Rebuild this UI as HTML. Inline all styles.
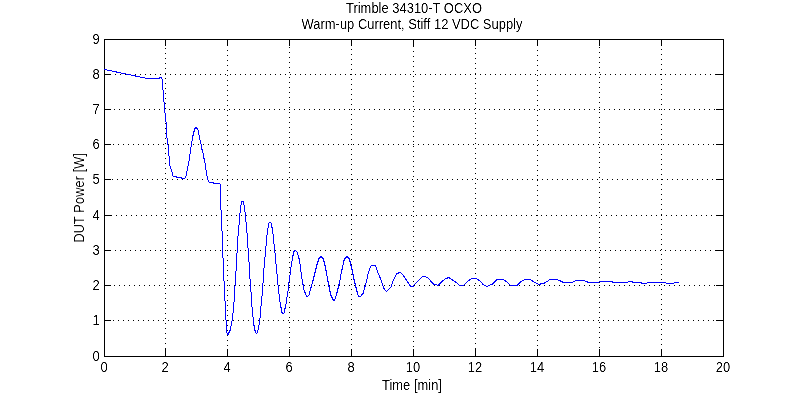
<!DOCTYPE html>
<html><head><meta charset="utf-8"><style>
html,body{margin:0;padding:0;background:#fff;width:799px;height:400px;overflow:hidden}
body{position:relative;font-family:"Liberation Sans",sans-serif;font-size:14px;color:#000}
.t{position:absolute;line-height:16px;white-space:nowrap;transform:scaleX(0.925);filter:url(#bk)}
.c{text-align:center;transform-origin:50% 50%}
.r{text-align:right;transform-origin:100% 50%}
svg{position:absolute;left:0;top:0}
</style></head><body>
<svg width="0" height="0" style="position:absolute"><filter id="bk" x="0" y="0" width="100%" height="100%"><feComponentTransfer><feFuncA type="linear" slope="1.8" intercept="-0.45"/></feComponentTransfer></filter></svg>
<svg width="799" height="400" viewBox="0 0 799 400" shape-rendering="crispEdges">
<g fill="#000"><rect x="108" y="320" width="1" height="1"/><rect x="113" y="320" width="1" height="1"/><rect x="118" y="320" width="1" height="1"/><rect x="123" y="320" width="1" height="1"/><rect x="128" y="320" width="1" height="1"/><rect x="133" y="320" width="1" height="1"/><rect x="138" y="320" width="1" height="1"/><rect x="143" y="320" width="1" height="1"/><rect x="148" y="320" width="1" height="1"/><rect x="153" y="320" width="1" height="1"/><rect x="158" y="320" width="1" height="1"/><rect x="163" y="320" width="1" height="1"/><rect x="168" y="320" width="1" height="1"/><rect x="173" y="320" width="1" height="1"/><rect x="178" y="320" width="1" height="1"/><rect x="183" y="320" width="1" height="1"/><rect x="188" y="320" width="1" height="1"/><rect x="193" y="320" width="1" height="1"/><rect x="198" y="320" width="1" height="1"/><rect x="203" y="320" width="1" height="1"/><rect x="208" y="320" width="1" height="1"/><rect x="213" y="320" width="1" height="1"/><rect x="218" y="320" width="1" height="1"/><rect x="223" y="320" width="1" height="1"/><rect x="228" y="320" width="1" height="1"/><rect x="233" y="320" width="1" height="1"/><rect x="238" y="320" width="1" height="1"/><rect x="243" y="320" width="1" height="1"/><rect x="248" y="320" width="1" height="1"/><rect x="253" y="320" width="1" height="1"/><rect x="258" y="320" width="1" height="1"/><rect x="263" y="320" width="1" height="1"/><rect x="268" y="320" width="1" height="1"/><rect x="273" y="320" width="1" height="1"/><rect x="278" y="320" width="1" height="1"/><rect x="283" y="320" width="1" height="1"/><rect x="288" y="320" width="1" height="1"/><rect x="293" y="320" width="1" height="1"/><rect x="298" y="320" width="1" height="1"/><rect x="303" y="320" width="1" height="1"/><rect x="308" y="320" width="1" height="1"/><rect x="313" y="320" width="1" height="1"/><rect x="318" y="320" width="1" height="1"/><rect x="323" y="320" width="1" height="1"/><rect x="328" y="320" width="1" height="1"/><rect x="333" y="320" width="1" height="1"/><rect x="338" y="320" width="1" height="1"/><rect x="343" y="320" width="1" height="1"/><rect x="348" y="320" width="1" height="1"/><rect x="353" y="320" width="1" height="1"/><rect x="358" y="320" width="1" height="1"/><rect x="363" y="320" width="1" height="1"/><rect x="368" y="320" width="1" height="1"/><rect x="373" y="320" width="1" height="1"/><rect x="378" y="320" width="1" height="1"/><rect x="383" y="320" width="1" height="1"/><rect x="388" y="320" width="1" height="1"/><rect x="393" y="320" width="1" height="1"/><rect x="398" y="320" width="1" height="1"/><rect x="403" y="320" width="1" height="1"/><rect x="408" y="320" width="1" height="1"/><rect x="413" y="320" width="1" height="1"/><rect x="418" y="320" width="1" height="1"/><rect x="423" y="320" width="1" height="1"/><rect x="428" y="320" width="1" height="1"/><rect x="433" y="320" width="1" height="1"/><rect x="438" y="320" width="1" height="1"/><rect x="443" y="320" width="1" height="1"/><rect x="448" y="320" width="1" height="1"/><rect x="453" y="320" width="1" height="1"/><rect x="458" y="320" width="1" height="1"/><rect x="463" y="320" width="1" height="1"/><rect x="468" y="320" width="1" height="1"/><rect x="473" y="320" width="1" height="1"/><rect x="478" y="320" width="1" height="1"/><rect x="483" y="320" width="1" height="1"/><rect x="488" y="320" width="1" height="1"/><rect x="493" y="320" width="1" height="1"/><rect x="498" y="320" width="1" height="1"/><rect x="503" y="320" width="1" height="1"/><rect x="508" y="320" width="1" height="1"/><rect x="513" y="320" width="1" height="1"/><rect x="518" y="320" width="1" height="1"/><rect x="523" y="320" width="1" height="1"/><rect x="528" y="320" width="1" height="1"/><rect x="533" y="320" width="1" height="1"/><rect x="538" y="320" width="1" height="1"/><rect x="543" y="320" width="1" height="1"/><rect x="548" y="320" width="1" height="1"/><rect x="553" y="320" width="1" height="1"/><rect x="558" y="320" width="1" height="1"/><rect x="563" y="320" width="1" height="1"/><rect x="568" y="320" width="1" height="1"/><rect x="573" y="320" width="1" height="1"/><rect x="578" y="320" width="1" height="1"/><rect x="583" y="320" width="1" height="1"/><rect x="588" y="320" width="1" height="1"/><rect x="593" y="320" width="1" height="1"/><rect x="598" y="320" width="1" height="1"/><rect x="603" y="320" width="1" height="1"/><rect x="608" y="320" width="1" height="1"/><rect x="613" y="320" width="1" height="1"/><rect x="618" y="320" width="1" height="1"/><rect x="623" y="320" width="1" height="1"/><rect x="628" y="320" width="1" height="1"/><rect x="633" y="320" width="1" height="1"/><rect x="638" y="320" width="1" height="1"/><rect x="643" y="320" width="1" height="1"/><rect x="648" y="320" width="1" height="1"/><rect x="653" y="320" width="1" height="1"/><rect x="658" y="320" width="1" height="1"/><rect x="663" y="320" width="1" height="1"/><rect x="668" y="320" width="1" height="1"/><rect x="673" y="320" width="1" height="1"/><rect x="678" y="320" width="1" height="1"/><rect x="683" y="320" width="1" height="1"/><rect x="688" y="320" width="1" height="1"/><rect x="693" y="320" width="1" height="1"/><rect x="698" y="320" width="1" height="1"/><rect x="703" y="320" width="1" height="1"/><rect x="708" y="320" width="1" height="1"/><rect x="713" y="320" width="1" height="1"/><rect x="718" y="320" width="1" height="1"/><rect x="109" y="285" width="1" height="1"/><rect x="114" y="285" width="1" height="1"/><rect x="119" y="285" width="1" height="1"/><rect x="124" y="285" width="1" height="1"/><rect x="129" y="285" width="1" height="1"/><rect x="134" y="285" width="1" height="1"/><rect x="139" y="285" width="1" height="1"/><rect x="144" y="285" width="1" height="1"/><rect x="149" y="285" width="1" height="1"/><rect x="154" y="285" width="1" height="1"/><rect x="159" y="285" width="1" height="1"/><rect x="164" y="285" width="1" height="1"/><rect x="169" y="285" width="1" height="1"/><rect x="174" y="285" width="1" height="1"/><rect x="179" y="285" width="1" height="1"/><rect x="184" y="285" width="1" height="1"/><rect x="189" y="285" width="1" height="1"/><rect x="194" y="285" width="1" height="1"/><rect x="199" y="285" width="1" height="1"/><rect x="204" y="285" width="1" height="1"/><rect x="209" y="285" width="1" height="1"/><rect x="214" y="285" width="1" height="1"/><rect x="219" y="285" width="1" height="1"/><rect x="224" y="285" width="1" height="1"/><rect x="229" y="285" width="1" height="1"/><rect x="234" y="285" width="1" height="1"/><rect x="239" y="285" width="1" height="1"/><rect x="244" y="285" width="1" height="1"/><rect x="249" y="285" width="1" height="1"/><rect x="254" y="285" width="1" height="1"/><rect x="259" y="285" width="1" height="1"/><rect x="264" y="285" width="1" height="1"/><rect x="269" y="285" width="1" height="1"/><rect x="274" y="285" width="1" height="1"/><rect x="279" y="285" width="1" height="1"/><rect x="284" y="285" width="1" height="1"/><rect x="289" y="285" width="1" height="1"/><rect x="294" y="285" width="1" height="1"/><rect x="299" y="285" width="1" height="1"/><rect x="304" y="285" width="1" height="1"/><rect x="309" y="285" width="1" height="1"/><rect x="314" y="285" width="1" height="1"/><rect x="319" y="285" width="1" height="1"/><rect x="324" y="285" width="1" height="1"/><rect x="329" y="285" width="1" height="1"/><rect x="334" y="285" width="1" height="1"/><rect x="339" y="285" width="1" height="1"/><rect x="344" y="285" width="1" height="1"/><rect x="349" y="285" width="1" height="1"/><rect x="354" y="285" width="1" height="1"/><rect x="359" y="285" width="1" height="1"/><rect x="364" y="285" width="1" height="1"/><rect x="369" y="285" width="1" height="1"/><rect x="374" y="285" width="1" height="1"/><rect x="379" y="285" width="1" height="1"/><rect x="384" y="285" width="1" height="1"/><rect x="389" y="285" width="1" height="1"/><rect x="394" y="285" width="1" height="1"/><rect x="399" y="285" width="1" height="1"/><rect x="404" y="285" width="1" height="1"/><rect x="409" y="285" width="1" height="1"/><rect x="414" y="285" width="1" height="1"/><rect x="419" y="285" width="1" height="1"/><rect x="424" y="285" width="1" height="1"/><rect x="429" y="285" width="1" height="1"/><rect x="434" y="285" width="1" height="1"/><rect x="439" y="285" width="1" height="1"/><rect x="444" y="285" width="1" height="1"/><rect x="449" y="285" width="1" height="1"/><rect x="454" y="285" width="1" height="1"/><rect x="459" y="285" width="1" height="1"/><rect x="464" y="285" width="1" height="1"/><rect x="469" y="285" width="1" height="1"/><rect x="474" y="285" width="1" height="1"/><rect x="479" y="285" width="1" height="1"/><rect x="484" y="285" width="1" height="1"/><rect x="489" y="285" width="1" height="1"/><rect x="494" y="285" width="1" height="1"/><rect x="499" y="285" width="1" height="1"/><rect x="504" y="285" width="1" height="1"/><rect x="509" y="285" width="1" height="1"/><rect x="514" y="285" width="1" height="1"/><rect x="519" y="285" width="1" height="1"/><rect x="524" y="285" width="1" height="1"/><rect x="529" y="285" width="1" height="1"/><rect x="534" y="285" width="1" height="1"/><rect x="539" y="285" width="1" height="1"/><rect x="544" y="285" width="1" height="1"/><rect x="549" y="285" width="1" height="1"/><rect x="554" y="285" width="1" height="1"/><rect x="559" y="285" width="1" height="1"/><rect x="564" y="285" width="1" height="1"/><rect x="569" y="285" width="1" height="1"/><rect x="574" y="285" width="1" height="1"/><rect x="579" y="285" width="1" height="1"/><rect x="584" y="285" width="1" height="1"/><rect x="589" y="285" width="1" height="1"/><rect x="594" y="285" width="1" height="1"/><rect x="599" y="285" width="1" height="1"/><rect x="604" y="285" width="1" height="1"/><rect x="609" y="285" width="1" height="1"/><rect x="614" y="285" width="1" height="1"/><rect x="619" y="285" width="1" height="1"/><rect x="624" y="285" width="1" height="1"/><rect x="629" y="285" width="1" height="1"/><rect x="634" y="285" width="1" height="1"/><rect x="639" y="285" width="1" height="1"/><rect x="644" y="285" width="1" height="1"/><rect x="649" y="285" width="1" height="1"/><rect x="654" y="285" width="1" height="1"/><rect x="659" y="285" width="1" height="1"/><rect x="664" y="285" width="1" height="1"/><rect x="669" y="285" width="1" height="1"/><rect x="674" y="285" width="1" height="1"/><rect x="679" y="285" width="1" height="1"/><rect x="684" y="285" width="1" height="1"/><rect x="689" y="285" width="1" height="1"/><rect x="694" y="285" width="1" height="1"/><rect x="699" y="285" width="1" height="1"/><rect x="704" y="285" width="1" height="1"/><rect x="709" y="285" width="1" height="1"/><rect x="714" y="285" width="1" height="1"/><rect x="719" y="285" width="1" height="1"/><rect x="105" y="250" width="1" height="1"/><rect x="110" y="250" width="1" height="1"/><rect x="115" y="250" width="1" height="1"/><rect x="120" y="250" width="1" height="1"/><rect x="125" y="250" width="1" height="1"/><rect x="130" y="250" width="1" height="1"/><rect x="135" y="250" width="1" height="1"/><rect x="140" y="250" width="1" height="1"/><rect x="145" y="250" width="1" height="1"/><rect x="150" y="250" width="1" height="1"/><rect x="155" y="250" width="1" height="1"/><rect x="160" y="250" width="1" height="1"/><rect x="165" y="250" width="1" height="1"/><rect x="170" y="250" width="1" height="1"/><rect x="175" y="250" width="1" height="1"/><rect x="180" y="250" width="1" height="1"/><rect x="185" y="250" width="1" height="1"/><rect x="190" y="250" width="1" height="1"/><rect x="195" y="250" width="1" height="1"/><rect x="200" y="250" width="1" height="1"/><rect x="205" y="250" width="1" height="1"/><rect x="210" y="250" width="1" height="1"/><rect x="215" y="250" width="1" height="1"/><rect x="220" y="250" width="1" height="1"/><rect x="225" y="250" width="1" height="1"/><rect x="230" y="250" width="1" height="1"/><rect x="235" y="250" width="1" height="1"/><rect x="240" y="250" width="1" height="1"/><rect x="245" y="250" width="1" height="1"/><rect x="250" y="250" width="1" height="1"/><rect x="255" y="250" width="1" height="1"/><rect x="260" y="250" width="1" height="1"/><rect x="265" y="250" width="1" height="1"/><rect x="270" y="250" width="1" height="1"/><rect x="275" y="250" width="1" height="1"/><rect x="280" y="250" width="1" height="1"/><rect x="285" y="250" width="1" height="1"/><rect x="290" y="250" width="1" height="1"/><rect x="295" y="250" width="1" height="1"/><rect x="300" y="250" width="1" height="1"/><rect x="305" y="250" width="1" height="1"/><rect x="310" y="250" width="1" height="1"/><rect x="315" y="250" width="1" height="1"/><rect x="320" y="250" width="1" height="1"/><rect x="325" y="250" width="1" height="1"/><rect x="330" y="250" width="1" height="1"/><rect x="335" y="250" width="1" height="1"/><rect x="340" y="250" width="1" height="1"/><rect x="345" y="250" width="1" height="1"/><rect x="350" y="250" width="1" height="1"/><rect x="355" y="250" width="1" height="1"/><rect x="360" y="250" width="1" height="1"/><rect x="365" y="250" width="1" height="1"/><rect x="370" y="250" width="1" height="1"/><rect x="375" y="250" width="1" height="1"/><rect x="380" y="250" width="1" height="1"/><rect x="385" y="250" width="1" height="1"/><rect x="390" y="250" width="1" height="1"/><rect x="395" y="250" width="1" height="1"/><rect x="400" y="250" width="1" height="1"/><rect x="405" y="250" width="1" height="1"/><rect x="410" y="250" width="1" height="1"/><rect x="415" y="250" width="1" height="1"/><rect x="420" y="250" width="1" height="1"/><rect x="425" y="250" width="1" height="1"/><rect x="430" y="250" width="1" height="1"/><rect x="435" y="250" width="1" height="1"/><rect x="440" y="250" width="1" height="1"/><rect x="445" y="250" width="1" height="1"/><rect x="450" y="250" width="1" height="1"/><rect x="455" y="250" width="1" height="1"/><rect x="460" y="250" width="1" height="1"/><rect x="465" y="250" width="1" height="1"/><rect x="470" y="250" width="1" height="1"/><rect x="475" y="250" width="1" height="1"/><rect x="480" y="250" width="1" height="1"/><rect x="485" y="250" width="1" height="1"/><rect x="490" y="250" width="1" height="1"/><rect x="495" y="250" width="1" height="1"/><rect x="500" y="250" width="1" height="1"/><rect x="505" y="250" width="1" height="1"/><rect x="510" y="250" width="1" height="1"/><rect x="515" y="250" width="1" height="1"/><rect x="520" y="250" width="1" height="1"/><rect x="525" y="250" width="1" height="1"/><rect x="530" y="250" width="1" height="1"/><rect x="535" y="250" width="1" height="1"/><rect x="540" y="250" width="1" height="1"/><rect x="545" y="250" width="1" height="1"/><rect x="550" y="250" width="1" height="1"/><rect x="555" y="250" width="1" height="1"/><rect x="560" y="250" width="1" height="1"/><rect x="565" y="250" width="1" height="1"/><rect x="570" y="250" width="1" height="1"/><rect x="575" y="250" width="1" height="1"/><rect x="580" y="250" width="1" height="1"/><rect x="585" y="250" width="1" height="1"/><rect x="590" y="250" width="1" height="1"/><rect x="595" y="250" width="1" height="1"/><rect x="600" y="250" width="1" height="1"/><rect x="605" y="250" width="1" height="1"/><rect x="610" y="250" width="1" height="1"/><rect x="615" y="250" width="1" height="1"/><rect x="620" y="250" width="1" height="1"/><rect x="625" y="250" width="1" height="1"/><rect x="630" y="250" width="1" height="1"/><rect x="635" y="250" width="1" height="1"/><rect x="640" y="250" width="1" height="1"/><rect x="645" y="250" width="1" height="1"/><rect x="650" y="250" width="1" height="1"/><rect x="655" y="250" width="1" height="1"/><rect x="660" y="250" width="1" height="1"/><rect x="665" y="250" width="1" height="1"/><rect x="670" y="250" width="1" height="1"/><rect x="675" y="250" width="1" height="1"/><rect x="680" y="250" width="1" height="1"/><rect x="685" y="250" width="1" height="1"/><rect x="690" y="250" width="1" height="1"/><rect x="695" y="250" width="1" height="1"/><rect x="700" y="250" width="1" height="1"/><rect x="705" y="250" width="1" height="1"/><rect x="710" y="250" width="1" height="1"/><rect x="715" y="250" width="1" height="1"/><rect x="720" y="250" width="1" height="1"/><rect x="106" y="215" width="1" height="1"/><rect x="111" y="215" width="1" height="1"/><rect x="116" y="215" width="1" height="1"/><rect x="121" y="215" width="1" height="1"/><rect x="126" y="215" width="1" height="1"/><rect x="131" y="215" width="1" height="1"/><rect x="136" y="215" width="1" height="1"/><rect x="141" y="215" width="1" height="1"/><rect x="146" y="215" width="1" height="1"/><rect x="151" y="215" width="1" height="1"/><rect x="156" y="215" width="1" height="1"/><rect x="161" y="215" width="1" height="1"/><rect x="166" y="215" width="1" height="1"/><rect x="171" y="215" width="1" height="1"/><rect x="176" y="215" width="1" height="1"/><rect x="181" y="215" width="1" height="1"/><rect x="186" y="215" width="1" height="1"/><rect x="191" y="215" width="1" height="1"/><rect x="196" y="215" width="1" height="1"/><rect x="201" y="215" width="1" height="1"/><rect x="206" y="215" width="1" height="1"/><rect x="211" y="215" width="1" height="1"/><rect x="216" y="215" width="1" height="1"/><rect x="221" y="215" width="1" height="1"/><rect x="226" y="215" width="1" height="1"/><rect x="231" y="215" width="1" height="1"/><rect x="236" y="215" width="1" height="1"/><rect x="241" y="215" width="1" height="1"/><rect x="246" y="215" width="1" height="1"/><rect x="251" y="215" width="1" height="1"/><rect x="256" y="215" width="1" height="1"/><rect x="261" y="215" width="1" height="1"/><rect x="266" y="215" width="1" height="1"/><rect x="271" y="215" width="1" height="1"/><rect x="276" y="215" width="1" height="1"/><rect x="281" y="215" width="1" height="1"/><rect x="286" y="215" width="1" height="1"/><rect x="291" y="215" width="1" height="1"/><rect x="296" y="215" width="1" height="1"/><rect x="301" y="215" width="1" height="1"/><rect x="306" y="215" width="1" height="1"/><rect x="311" y="215" width="1" height="1"/><rect x="316" y="215" width="1" height="1"/><rect x="321" y="215" width="1" height="1"/><rect x="326" y="215" width="1" height="1"/><rect x="331" y="215" width="1" height="1"/><rect x="336" y="215" width="1" height="1"/><rect x="341" y="215" width="1" height="1"/><rect x="346" y="215" width="1" height="1"/><rect x="351" y="215" width="1" height="1"/><rect x="356" y="215" width="1" height="1"/><rect x="361" y="215" width="1" height="1"/><rect x="366" y="215" width="1" height="1"/><rect x="371" y="215" width="1" height="1"/><rect x="376" y="215" width="1" height="1"/><rect x="381" y="215" width="1" height="1"/><rect x="386" y="215" width="1" height="1"/><rect x="391" y="215" width="1" height="1"/><rect x="396" y="215" width="1" height="1"/><rect x="401" y="215" width="1" height="1"/><rect x="406" y="215" width="1" height="1"/><rect x="411" y="215" width="1" height="1"/><rect x="416" y="215" width="1" height="1"/><rect x="421" y="215" width="1" height="1"/><rect x="426" y="215" width="1" height="1"/><rect x="431" y="215" width="1" height="1"/><rect x="436" y="215" width="1" height="1"/><rect x="441" y="215" width="1" height="1"/><rect x="446" y="215" width="1" height="1"/><rect x="451" y="215" width="1" height="1"/><rect x="456" y="215" width="1" height="1"/><rect x="461" y="215" width="1" height="1"/><rect x="466" y="215" width="1" height="1"/><rect x="471" y="215" width="1" height="1"/><rect x="476" y="215" width="1" height="1"/><rect x="481" y="215" width="1" height="1"/><rect x="486" y="215" width="1" height="1"/><rect x="491" y="215" width="1" height="1"/><rect x="496" y="215" width="1" height="1"/><rect x="501" y="215" width="1" height="1"/><rect x="506" y="215" width="1" height="1"/><rect x="511" y="215" width="1" height="1"/><rect x="516" y="215" width="1" height="1"/><rect x="521" y="215" width="1" height="1"/><rect x="526" y="215" width="1" height="1"/><rect x="531" y="215" width="1" height="1"/><rect x="536" y="215" width="1" height="1"/><rect x="541" y="215" width="1" height="1"/><rect x="546" y="215" width="1" height="1"/><rect x="551" y="215" width="1" height="1"/><rect x="556" y="215" width="1" height="1"/><rect x="561" y="215" width="1" height="1"/><rect x="566" y="215" width="1" height="1"/><rect x="571" y="215" width="1" height="1"/><rect x="576" y="215" width="1" height="1"/><rect x="581" y="215" width="1" height="1"/><rect x="586" y="215" width="1" height="1"/><rect x="591" y="215" width="1" height="1"/><rect x="596" y="215" width="1" height="1"/><rect x="601" y="215" width="1" height="1"/><rect x="606" y="215" width="1" height="1"/><rect x="611" y="215" width="1" height="1"/><rect x="616" y="215" width="1" height="1"/><rect x="621" y="215" width="1" height="1"/><rect x="626" y="215" width="1" height="1"/><rect x="631" y="215" width="1" height="1"/><rect x="636" y="215" width="1" height="1"/><rect x="641" y="215" width="1" height="1"/><rect x="646" y="215" width="1" height="1"/><rect x="651" y="215" width="1" height="1"/><rect x="656" y="215" width="1" height="1"/><rect x="661" y="215" width="1" height="1"/><rect x="666" y="215" width="1" height="1"/><rect x="671" y="215" width="1" height="1"/><rect x="676" y="215" width="1" height="1"/><rect x="681" y="215" width="1" height="1"/><rect x="686" y="215" width="1" height="1"/><rect x="691" y="215" width="1" height="1"/><rect x="696" y="215" width="1" height="1"/><rect x="701" y="215" width="1" height="1"/><rect x="706" y="215" width="1" height="1"/><rect x="711" y="215" width="1" height="1"/><rect x="716" y="215" width="1" height="1"/><rect x="721" y="215" width="1" height="1"/><rect x="107" y="179" width="1" height="1"/><rect x="112" y="179" width="1" height="1"/><rect x="117" y="179" width="1" height="1"/><rect x="122" y="179" width="1" height="1"/><rect x="127" y="179" width="1" height="1"/><rect x="132" y="179" width="1" height="1"/><rect x="137" y="179" width="1" height="1"/><rect x="142" y="179" width="1" height="1"/><rect x="147" y="179" width="1" height="1"/><rect x="152" y="179" width="1" height="1"/><rect x="157" y="179" width="1" height="1"/><rect x="162" y="179" width="1" height="1"/><rect x="167" y="179" width="1" height="1"/><rect x="172" y="179" width="1" height="1"/><rect x="177" y="179" width="1" height="1"/><rect x="182" y="179" width="1" height="1"/><rect x="187" y="179" width="1" height="1"/><rect x="192" y="179" width="1" height="1"/><rect x="197" y="179" width="1" height="1"/><rect x="202" y="179" width="1" height="1"/><rect x="207" y="179" width="1" height="1"/><rect x="212" y="179" width="1" height="1"/><rect x="217" y="179" width="1" height="1"/><rect x="222" y="179" width="1" height="1"/><rect x="227" y="179" width="1" height="1"/><rect x="232" y="179" width="1" height="1"/><rect x="237" y="179" width="1" height="1"/><rect x="242" y="179" width="1" height="1"/><rect x="247" y="179" width="1" height="1"/><rect x="252" y="179" width="1" height="1"/><rect x="257" y="179" width="1" height="1"/><rect x="262" y="179" width="1" height="1"/><rect x="267" y="179" width="1" height="1"/><rect x="272" y="179" width="1" height="1"/><rect x="277" y="179" width="1" height="1"/><rect x="282" y="179" width="1" height="1"/><rect x="287" y="179" width="1" height="1"/><rect x="292" y="179" width="1" height="1"/><rect x="297" y="179" width="1" height="1"/><rect x="302" y="179" width="1" height="1"/><rect x="307" y="179" width="1" height="1"/><rect x="312" y="179" width="1" height="1"/><rect x="317" y="179" width="1" height="1"/><rect x="322" y="179" width="1" height="1"/><rect x="327" y="179" width="1" height="1"/><rect x="332" y="179" width="1" height="1"/><rect x="337" y="179" width="1" height="1"/><rect x="342" y="179" width="1" height="1"/><rect x="347" y="179" width="1" height="1"/><rect x="352" y="179" width="1" height="1"/><rect x="357" y="179" width="1" height="1"/><rect x="362" y="179" width="1" height="1"/><rect x="367" y="179" width="1" height="1"/><rect x="372" y="179" width="1" height="1"/><rect x="377" y="179" width="1" height="1"/><rect x="382" y="179" width="1" height="1"/><rect x="387" y="179" width="1" height="1"/><rect x="392" y="179" width="1" height="1"/><rect x="397" y="179" width="1" height="1"/><rect x="402" y="179" width="1" height="1"/><rect x="407" y="179" width="1" height="1"/><rect x="412" y="179" width="1" height="1"/><rect x="417" y="179" width="1" height="1"/><rect x="422" y="179" width="1" height="1"/><rect x="427" y="179" width="1" height="1"/><rect x="432" y="179" width="1" height="1"/><rect x="437" y="179" width="1" height="1"/><rect x="442" y="179" width="1" height="1"/><rect x="447" y="179" width="1" height="1"/><rect x="452" y="179" width="1" height="1"/><rect x="457" y="179" width="1" height="1"/><rect x="462" y="179" width="1" height="1"/><rect x="467" y="179" width="1" height="1"/><rect x="472" y="179" width="1" height="1"/><rect x="477" y="179" width="1" height="1"/><rect x="482" y="179" width="1" height="1"/><rect x="487" y="179" width="1" height="1"/><rect x="492" y="179" width="1" height="1"/><rect x="497" y="179" width="1" height="1"/><rect x="502" y="179" width="1" height="1"/><rect x="507" y="179" width="1" height="1"/><rect x="512" y="179" width="1" height="1"/><rect x="517" y="179" width="1" height="1"/><rect x="522" y="179" width="1" height="1"/><rect x="527" y="179" width="1" height="1"/><rect x="532" y="179" width="1" height="1"/><rect x="537" y="179" width="1" height="1"/><rect x="542" y="179" width="1" height="1"/><rect x="547" y="179" width="1" height="1"/><rect x="552" y="179" width="1" height="1"/><rect x="557" y="179" width="1" height="1"/><rect x="562" y="179" width="1" height="1"/><rect x="567" y="179" width="1" height="1"/><rect x="572" y="179" width="1" height="1"/><rect x="577" y="179" width="1" height="1"/><rect x="582" y="179" width="1" height="1"/><rect x="587" y="179" width="1" height="1"/><rect x="592" y="179" width="1" height="1"/><rect x="597" y="179" width="1" height="1"/><rect x="602" y="179" width="1" height="1"/><rect x="607" y="179" width="1" height="1"/><rect x="612" y="179" width="1" height="1"/><rect x="617" y="179" width="1" height="1"/><rect x="622" y="179" width="1" height="1"/><rect x="627" y="179" width="1" height="1"/><rect x="632" y="179" width="1" height="1"/><rect x="637" y="179" width="1" height="1"/><rect x="642" y="179" width="1" height="1"/><rect x="647" y="179" width="1" height="1"/><rect x="652" y="179" width="1" height="1"/><rect x="657" y="179" width="1" height="1"/><rect x="662" y="179" width="1" height="1"/><rect x="667" y="179" width="1" height="1"/><rect x="672" y="179" width="1" height="1"/><rect x="677" y="179" width="1" height="1"/><rect x="682" y="179" width="1" height="1"/><rect x="687" y="179" width="1" height="1"/><rect x="692" y="179" width="1" height="1"/><rect x="697" y="179" width="1" height="1"/><rect x="702" y="179" width="1" height="1"/><rect x="707" y="179" width="1" height="1"/><rect x="712" y="179" width="1" height="1"/><rect x="717" y="179" width="1" height="1"/><rect x="722" y="179" width="1" height="1"/><rect x="108" y="144" width="1" height="1"/><rect x="113" y="144" width="1" height="1"/><rect x="118" y="144" width="1" height="1"/><rect x="123" y="144" width="1" height="1"/><rect x="128" y="144" width="1" height="1"/><rect x="133" y="144" width="1" height="1"/><rect x="138" y="144" width="1" height="1"/><rect x="143" y="144" width="1" height="1"/><rect x="148" y="144" width="1" height="1"/><rect x="153" y="144" width="1" height="1"/><rect x="158" y="144" width="1" height="1"/><rect x="163" y="144" width="1" height="1"/><rect x="168" y="144" width="1" height="1"/><rect x="173" y="144" width="1" height="1"/><rect x="178" y="144" width="1" height="1"/><rect x="183" y="144" width="1" height="1"/><rect x="188" y="144" width="1" height="1"/><rect x="193" y="144" width="1" height="1"/><rect x="198" y="144" width="1" height="1"/><rect x="203" y="144" width="1" height="1"/><rect x="208" y="144" width="1" height="1"/><rect x="213" y="144" width="1" height="1"/><rect x="218" y="144" width="1" height="1"/><rect x="223" y="144" width="1" height="1"/><rect x="228" y="144" width="1" height="1"/><rect x="233" y="144" width="1" height="1"/><rect x="238" y="144" width="1" height="1"/><rect x="243" y="144" width="1" height="1"/><rect x="248" y="144" width="1" height="1"/><rect x="253" y="144" width="1" height="1"/><rect x="258" y="144" width="1" height="1"/><rect x="263" y="144" width="1" height="1"/><rect x="268" y="144" width="1" height="1"/><rect x="273" y="144" width="1" height="1"/><rect x="278" y="144" width="1" height="1"/><rect x="283" y="144" width="1" height="1"/><rect x="288" y="144" width="1" height="1"/><rect x="293" y="144" width="1" height="1"/><rect x="298" y="144" width="1" height="1"/><rect x="303" y="144" width="1" height="1"/><rect x="308" y="144" width="1" height="1"/><rect x="313" y="144" width="1" height="1"/><rect x="318" y="144" width="1" height="1"/><rect x="323" y="144" width="1" height="1"/><rect x="328" y="144" width="1" height="1"/><rect x="333" y="144" width="1" height="1"/><rect x="338" y="144" width="1" height="1"/><rect x="343" y="144" width="1" height="1"/><rect x="348" y="144" width="1" height="1"/><rect x="353" y="144" width="1" height="1"/><rect x="358" y="144" width="1" height="1"/><rect x="363" y="144" width="1" height="1"/><rect x="368" y="144" width="1" height="1"/><rect x="373" y="144" width="1" height="1"/><rect x="378" y="144" width="1" height="1"/><rect x="383" y="144" width="1" height="1"/><rect x="388" y="144" width="1" height="1"/><rect x="393" y="144" width="1" height="1"/><rect x="398" y="144" width="1" height="1"/><rect x="403" y="144" width="1" height="1"/><rect x="408" y="144" width="1" height="1"/><rect x="413" y="144" width="1" height="1"/><rect x="418" y="144" width="1" height="1"/><rect x="423" y="144" width="1" height="1"/><rect x="428" y="144" width="1" height="1"/><rect x="433" y="144" width="1" height="1"/><rect x="438" y="144" width="1" height="1"/><rect x="443" y="144" width="1" height="1"/><rect x="448" y="144" width="1" height="1"/><rect x="453" y="144" width="1" height="1"/><rect x="458" y="144" width="1" height="1"/><rect x="463" y="144" width="1" height="1"/><rect x="468" y="144" width="1" height="1"/><rect x="473" y="144" width="1" height="1"/><rect x="478" y="144" width="1" height="1"/><rect x="483" y="144" width="1" height="1"/><rect x="488" y="144" width="1" height="1"/><rect x="493" y="144" width="1" height="1"/><rect x="498" y="144" width="1" height="1"/><rect x="503" y="144" width="1" height="1"/><rect x="508" y="144" width="1" height="1"/><rect x="513" y="144" width="1" height="1"/><rect x="518" y="144" width="1" height="1"/><rect x="523" y="144" width="1" height="1"/><rect x="528" y="144" width="1" height="1"/><rect x="533" y="144" width="1" height="1"/><rect x="538" y="144" width="1" height="1"/><rect x="543" y="144" width="1" height="1"/><rect x="548" y="144" width="1" height="1"/><rect x="553" y="144" width="1" height="1"/><rect x="558" y="144" width="1" height="1"/><rect x="563" y="144" width="1" height="1"/><rect x="568" y="144" width="1" height="1"/><rect x="573" y="144" width="1" height="1"/><rect x="578" y="144" width="1" height="1"/><rect x="583" y="144" width="1" height="1"/><rect x="588" y="144" width="1" height="1"/><rect x="593" y="144" width="1" height="1"/><rect x="598" y="144" width="1" height="1"/><rect x="603" y="144" width="1" height="1"/><rect x="608" y="144" width="1" height="1"/><rect x="613" y="144" width="1" height="1"/><rect x="618" y="144" width="1" height="1"/><rect x="623" y="144" width="1" height="1"/><rect x="628" y="144" width="1" height="1"/><rect x="633" y="144" width="1" height="1"/><rect x="638" y="144" width="1" height="1"/><rect x="643" y="144" width="1" height="1"/><rect x="648" y="144" width="1" height="1"/><rect x="653" y="144" width="1" height="1"/><rect x="658" y="144" width="1" height="1"/><rect x="663" y="144" width="1" height="1"/><rect x="668" y="144" width="1" height="1"/><rect x="673" y="144" width="1" height="1"/><rect x="678" y="144" width="1" height="1"/><rect x="683" y="144" width="1" height="1"/><rect x="688" y="144" width="1" height="1"/><rect x="693" y="144" width="1" height="1"/><rect x="698" y="144" width="1" height="1"/><rect x="703" y="144" width="1" height="1"/><rect x="708" y="144" width="1" height="1"/><rect x="713" y="144" width="1" height="1"/><rect x="718" y="144" width="1" height="1"/><rect x="109" y="109" width="1" height="1"/><rect x="114" y="109" width="1" height="1"/><rect x="119" y="109" width="1" height="1"/><rect x="124" y="109" width="1" height="1"/><rect x="129" y="109" width="1" height="1"/><rect x="134" y="109" width="1" height="1"/><rect x="139" y="109" width="1" height="1"/><rect x="144" y="109" width="1" height="1"/><rect x="149" y="109" width="1" height="1"/><rect x="154" y="109" width="1" height="1"/><rect x="159" y="109" width="1" height="1"/><rect x="164" y="109" width="1" height="1"/><rect x="169" y="109" width="1" height="1"/><rect x="174" y="109" width="1" height="1"/><rect x="179" y="109" width="1" height="1"/><rect x="184" y="109" width="1" height="1"/><rect x="189" y="109" width="1" height="1"/><rect x="194" y="109" width="1" height="1"/><rect x="199" y="109" width="1" height="1"/><rect x="204" y="109" width="1" height="1"/><rect x="209" y="109" width="1" height="1"/><rect x="214" y="109" width="1" height="1"/><rect x="219" y="109" width="1" height="1"/><rect x="224" y="109" width="1" height="1"/><rect x="229" y="109" width="1" height="1"/><rect x="234" y="109" width="1" height="1"/><rect x="239" y="109" width="1" height="1"/><rect x="244" y="109" width="1" height="1"/><rect x="249" y="109" width="1" height="1"/><rect x="254" y="109" width="1" height="1"/><rect x="259" y="109" width="1" height="1"/><rect x="264" y="109" width="1" height="1"/><rect x="269" y="109" width="1" height="1"/><rect x="274" y="109" width="1" height="1"/><rect x="279" y="109" width="1" height="1"/><rect x="284" y="109" width="1" height="1"/><rect x="289" y="109" width="1" height="1"/><rect x="294" y="109" width="1" height="1"/><rect x="299" y="109" width="1" height="1"/><rect x="304" y="109" width="1" height="1"/><rect x="309" y="109" width="1" height="1"/><rect x="314" y="109" width="1" height="1"/><rect x="319" y="109" width="1" height="1"/><rect x="324" y="109" width="1" height="1"/><rect x="329" y="109" width="1" height="1"/><rect x="334" y="109" width="1" height="1"/><rect x="339" y="109" width="1" height="1"/><rect x="344" y="109" width="1" height="1"/><rect x="349" y="109" width="1" height="1"/><rect x="354" y="109" width="1" height="1"/><rect x="359" y="109" width="1" height="1"/><rect x="364" y="109" width="1" height="1"/><rect x="369" y="109" width="1" height="1"/><rect x="374" y="109" width="1" height="1"/><rect x="379" y="109" width="1" height="1"/><rect x="384" y="109" width="1" height="1"/><rect x="389" y="109" width="1" height="1"/><rect x="394" y="109" width="1" height="1"/><rect x="399" y="109" width="1" height="1"/><rect x="404" y="109" width="1" height="1"/><rect x="409" y="109" width="1" height="1"/><rect x="414" y="109" width="1" height="1"/><rect x="419" y="109" width="1" height="1"/><rect x="424" y="109" width="1" height="1"/><rect x="429" y="109" width="1" height="1"/><rect x="434" y="109" width="1" height="1"/><rect x="439" y="109" width="1" height="1"/><rect x="444" y="109" width="1" height="1"/><rect x="449" y="109" width="1" height="1"/><rect x="454" y="109" width="1" height="1"/><rect x="459" y="109" width="1" height="1"/><rect x="464" y="109" width="1" height="1"/><rect x="469" y="109" width="1" height="1"/><rect x="474" y="109" width="1" height="1"/><rect x="479" y="109" width="1" height="1"/><rect x="484" y="109" width="1" height="1"/><rect x="489" y="109" width="1" height="1"/><rect x="494" y="109" width="1" height="1"/><rect x="499" y="109" width="1" height="1"/><rect x="504" y="109" width="1" height="1"/><rect x="509" y="109" width="1" height="1"/><rect x="514" y="109" width="1" height="1"/><rect x="519" y="109" width="1" height="1"/><rect x="524" y="109" width="1" height="1"/><rect x="529" y="109" width="1" height="1"/><rect x="534" y="109" width="1" height="1"/><rect x="539" y="109" width="1" height="1"/><rect x="544" y="109" width="1" height="1"/><rect x="549" y="109" width="1" height="1"/><rect x="554" y="109" width="1" height="1"/><rect x="559" y="109" width="1" height="1"/><rect x="564" y="109" width="1" height="1"/><rect x="569" y="109" width="1" height="1"/><rect x="574" y="109" width="1" height="1"/><rect x="579" y="109" width="1" height="1"/><rect x="584" y="109" width="1" height="1"/><rect x="589" y="109" width="1" height="1"/><rect x="594" y="109" width="1" height="1"/><rect x="599" y="109" width="1" height="1"/><rect x="604" y="109" width="1" height="1"/><rect x="609" y="109" width="1" height="1"/><rect x="614" y="109" width="1" height="1"/><rect x="619" y="109" width="1" height="1"/><rect x="624" y="109" width="1" height="1"/><rect x="629" y="109" width="1" height="1"/><rect x="634" y="109" width="1" height="1"/><rect x="639" y="109" width="1" height="1"/><rect x="644" y="109" width="1" height="1"/><rect x="649" y="109" width="1" height="1"/><rect x="654" y="109" width="1" height="1"/><rect x="659" y="109" width="1" height="1"/><rect x="664" y="109" width="1" height="1"/><rect x="669" y="109" width="1" height="1"/><rect x="674" y="109" width="1" height="1"/><rect x="679" y="109" width="1" height="1"/><rect x="684" y="109" width="1" height="1"/><rect x="689" y="109" width="1" height="1"/><rect x="694" y="109" width="1" height="1"/><rect x="699" y="109" width="1" height="1"/><rect x="704" y="109" width="1" height="1"/><rect x="709" y="109" width="1" height="1"/><rect x="714" y="109" width="1" height="1"/><rect x="719" y="109" width="1" height="1"/><rect x="105" y="74" width="1" height="1"/><rect x="110" y="74" width="1" height="1"/><rect x="115" y="74" width="1" height="1"/><rect x="120" y="74" width="1" height="1"/><rect x="125" y="74" width="1" height="1"/><rect x="130" y="74" width="1" height="1"/><rect x="135" y="74" width="1" height="1"/><rect x="140" y="74" width="1" height="1"/><rect x="145" y="74" width="1" height="1"/><rect x="150" y="74" width="1" height="1"/><rect x="155" y="74" width="1" height="1"/><rect x="160" y="74" width="1" height="1"/><rect x="165" y="74" width="1" height="1"/><rect x="170" y="74" width="1" height="1"/><rect x="175" y="74" width="1" height="1"/><rect x="180" y="74" width="1" height="1"/><rect x="185" y="74" width="1" height="1"/><rect x="190" y="74" width="1" height="1"/><rect x="195" y="74" width="1" height="1"/><rect x="200" y="74" width="1" height="1"/><rect x="205" y="74" width="1" height="1"/><rect x="210" y="74" width="1" height="1"/><rect x="215" y="74" width="1" height="1"/><rect x="220" y="74" width="1" height="1"/><rect x="225" y="74" width="1" height="1"/><rect x="230" y="74" width="1" height="1"/><rect x="235" y="74" width="1" height="1"/><rect x="240" y="74" width="1" height="1"/><rect x="245" y="74" width="1" height="1"/><rect x="250" y="74" width="1" height="1"/><rect x="255" y="74" width="1" height="1"/><rect x="260" y="74" width="1" height="1"/><rect x="265" y="74" width="1" height="1"/><rect x="270" y="74" width="1" height="1"/><rect x="275" y="74" width="1" height="1"/><rect x="280" y="74" width="1" height="1"/><rect x="285" y="74" width="1" height="1"/><rect x="290" y="74" width="1" height="1"/><rect x="295" y="74" width="1" height="1"/><rect x="300" y="74" width="1" height="1"/><rect x="305" y="74" width="1" height="1"/><rect x="310" y="74" width="1" height="1"/><rect x="315" y="74" width="1" height="1"/><rect x="320" y="74" width="1" height="1"/><rect x="325" y="74" width="1" height="1"/><rect x="330" y="74" width="1" height="1"/><rect x="335" y="74" width="1" height="1"/><rect x="340" y="74" width="1" height="1"/><rect x="345" y="74" width="1" height="1"/><rect x="350" y="74" width="1" height="1"/><rect x="355" y="74" width="1" height="1"/><rect x="360" y="74" width="1" height="1"/><rect x="365" y="74" width="1" height="1"/><rect x="370" y="74" width="1" height="1"/><rect x="375" y="74" width="1" height="1"/><rect x="380" y="74" width="1" height="1"/><rect x="385" y="74" width="1" height="1"/><rect x="390" y="74" width="1" height="1"/><rect x="395" y="74" width="1" height="1"/><rect x="400" y="74" width="1" height="1"/><rect x="405" y="74" width="1" height="1"/><rect x="410" y="74" width="1" height="1"/><rect x="415" y="74" width="1" height="1"/><rect x="420" y="74" width="1" height="1"/><rect x="425" y="74" width="1" height="1"/><rect x="430" y="74" width="1" height="1"/><rect x="435" y="74" width="1" height="1"/><rect x="440" y="74" width="1" height="1"/><rect x="445" y="74" width="1" height="1"/><rect x="450" y="74" width="1" height="1"/><rect x="455" y="74" width="1" height="1"/><rect x="460" y="74" width="1" height="1"/><rect x="465" y="74" width="1" height="1"/><rect x="470" y="74" width="1" height="1"/><rect x="475" y="74" width="1" height="1"/><rect x="480" y="74" width="1" height="1"/><rect x="485" y="74" width="1" height="1"/><rect x="490" y="74" width="1" height="1"/><rect x="495" y="74" width="1" height="1"/><rect x="500" y="74" width="1" height="1"/><rect x="505" y="74" width="1" height="1"/><rect x="510" y="74" width="1" height="1"/><rect x="515" y="74" width="1" height="1"/><rect x="520" y="74" width="1" height="1"/><rect x="525" y="74" width="1" height="1"/><rect x="530" y="74" width="1" height="1"/><rect x="535" y="74" width="1" height="1"/><rect x="540" y="74" width="1" height="1"/><rect x="545" y="74" width="1" height="1"/><rect x="550" y="74" width="1" height="1"/><rect x="555" y="74" width="1" height="1"/><rect x="560" y="74" width="1" height="1"/><rect x="565" y="74" width="1" height="1"/><rect x="570" y="74" width="1" height="1"/><rect x="575" y="74" width="1" height="1"/><rect x="580" y="74" width="1" height="1"/><rect x="585" y="74" width="1" height="1"/><rect x="590" y="74" width="1" height="1"/><rect x="595" y="74" width="1" height="1"/><rect x="600" y="74" width="1" height="1"/><rect x="605" y="74" width="1" height="1"/><rect x="610" y="74" width="1" height="1"/><rect x="615" y="74" width="1" height="1"/><rect x="620" y="74" width="1" height="1"/><rect x="625" y="74" width="1" height="1"/><rect x="630" y="74" width="1" height="1"/><rect x="635" y="74" width="1" height="1"/><rect x="640" y="74" width="1" height="1"/><rect x="645" y="74" width="1" height="1"/><rect x="650" y="74" width="1" height="1"/><rect x="655" y="74" width="1" height="1"/><rect x="660" y="74" width="1" height="1"/><rect x="665" y="74" width="1" height="1"/><rect x="670" y="74" width="1" height="1"/><rect x="675" y="74" width="1" height="1"/><rect x="680" y="74" width="1" height="1"/><rect x="685" y="74" width="1" height="1"/><rect x="690" y="74" width="1" height="1"/><rect x="695" y="74" width="1" height="1"/><rect x="700" y="74" width="1" height="1"/><rect x="705" y="74" width="1" height="1"/><rect x="710" y="74" width="1" height="1"/><rect x="715" y="74" width="1" height="1"/><rect x="720" y="74" width="1" height="1"/><rect x="165" y="43" width="1" height="1"/><rect x="165" y="48" width="1" height="1"/><rect x="165" y="53" width="1" height="1"/><rect x="165" y="58" width="1" height="1"/><rect x="165" y="63" width="1" height="1"/><rect x="165" y="68" width="1" height="1"/><rect x="165" y="73" width="1" height="1"/><rect x="165" y="78" width="1" height="1"/><rect x="165" y="83" width="1" height="1"/><rect x="165" y="88" width="1" height="1"/><rect x="165" y="93" width="1" height="1"/><rect x="165" y="98" width="1" height="1"/><rect x="165" y="103" width="1" height="1"/><rect x="165" y="108" width="1" height="1"/><rect x="165" y="113" width="1" height="1"/><rect x="165" y="118" width="1" height="1"/><rect x="165" y="123" width="1" height="1"/><rect x="165" y="128" width="1" height="1"/><rect x="165" y="133" width="1" height="1"/><rect x="165" y="138" width="1" height="1"/><rect x="165" y="143" width="1" height="1"/><rect x="165" y="148" width="1" height="1"/><rect x="165" y="153" width="1" height="1"/><rect x="165" y="158" width="1" height="1"/><rect x="165" y="163" width="1" height="1"/><rect x="165" y="168" width="1" height="1"/><rect x="165" y="173" width="1" height="1"/><rect x="165" y="178" width="1" height="1"/><rect x="165" y="183" width="1" height="1"/><rect x="165" y="188" width="1" height="1"/><rect x="165" y="193" width="1" height="1"/><rect x="165" y="198" width="1" height="1"/><rect x="165" y="203" width="1" height="1"/><rect x="165" y="208" width="1" height="1"/><rect x="165" y="213" width="1" height="1"/><rect x="165" y="218" width="1" height="1"/><rect x="165" y="223" width="1" height="1"/><rect x="165" y="228" width="1" height="1"/><rect x="165" y="233" width="1" height="1"/><rect x="165" y="238" width="1" height="1"/><rect x="165" y="243" width="1" height="1"/><rect x="165" y="248" width="1" height="1"/><rect x="165" y="253" width="1" height="1"/><rect x="165" y="258" width="1" height="1"/><rect x="165" y="263" width="1" height="1"/><rect x="165" y="268" width="1" height="1"/><rect x="165" y="273" width="1" height="1"/><rect x="165" y="278" width="1" height="1"/><rect x="165" y="283" width="1" height="1"/><rect x="165" y="288" width="1" height="1"/><rect x="165" y="293" width="1" height="1"/><rect x="165" y="298" width="1" height="1"/><rect x="165" y="303" width="1" height="1"/><rect x="165" y="308" width="1" height="1"/><rect x="165" y="313" width="1" height="1"/><rect x="165" y="318" width="1" height="1"/><rect x="165" y="323" width="1" height="1"/><rect x="165" y="328" width="1" height="1"/><rect x="165" y="333" width="1" height="1"/><rect x="165" y="338" width="1" height="1"/><rect x="165" y="343" width="1" height="1"/><rect x="165" y="348" width="1" height="1"/><rect x="165" y="353" width="1" height="1"/><rect x="227" y="40" width="1" height="1"/><rect x="227" y="45" width="1" height="1"/><rect x="227" y="50" width="1" height="1"/><rect x="227" y="55" width="1" height="1"/><rect x="227" y="60" width="1" height="1"/><rect x="227" y="65" width="1" height="1"/><rect x="227" y="70" width="1" height="1"/><rect x="227" y="75" width="1" height="1"/><rect x="227" y="80" width="1" height="1"/><rect x="227" y="85" width="1" height="1"/><rect x="227" y="90" width="1" height="1"/><rect x="227" y="95" width="1" height="1"/><rect x="227" y="100" width="1" height="1"/><rect x="227" y="105" width="1" height="1"/><rect x="227" y="110" width="1" height="1"/><rect x="227" y="115" width="1" height="1"/><rect x="227" y="120" width="1" height="1"/><rect x="227" y="125" width="1" height="1"/><rect x="227" y="130" width="1" height="1"/><rect x="227" y="135" width="1" height="1"/><rect x="227" y="140" width="1" height="1"/><rect x="227" y="145" width="1" height="1"/><rect x="227" y="150" width="1" height="1"/><rect x="227" y="155" width="1" height="1"/><rect x="227" y="160" width="1" height="1"/><rect x="227" y="165" width="1" height="1"/><rect x="227" y="170" width="1" height="1"/><rect x="227" y="175" width="1" height="1"/><rect x="227" y="180" width="1" height="1"/><rect x="227" y="185" width="1" height="1"/><rect x="227" y="190" width="1" height="1"/><rect x="227" y="195" width="1" height="1"/><rect x="227" y="200" width="1" height="1"/><rect x="227" y="205" width="1" height="1"/><rect x="227" y="210" width="1" height="1"/><rect x="227" y="215" width="1" height="1"/><rect x="227" y="220" width="1" height="1"/><rect x="227" y="225" width="1" height="1"/><rect x="227" y="230" width="1" height="1"/><rect x="227" y="235" width="1" height="1"/><rect x="227" y="240" width="1" height="1"/><rect x="227" y="245" width="1" height="1"/><rect x="227" y="250" width="1" height="1"/><rect x="227" y="255" width="1" height="1"/><rect x="227" y="260" width="1" height="1"/><rect x="227" y="265" width="1" height="1"/><rect x="227" y="270" width="1" height="1"/><rect x="227" y="275" width="1" height="1"/><rect x="227" y="280" width="1" height="1"/><rect x="227" y="285" width="1" height="1"/><rect x="227" y="290" width="1" height="1"/><rect x="227" y="295" width="1" height="1"/><rect x="227" y="300" width="1" height="1"/><rect x="227" y="305" width="1" height="1"/><rect x="227" y="310" width="1" height="1"/><rect x="227" y="315" width="1" height="1"/><rect x="227" y="320" width="1" height="1"/><rect x="227" y="325" width="1" height="1"/><rect x="227" y="330" width="1" height="1"/><rect x="227" y="335" width="1" height="1"/><rect x="227" y="340" width="1" height="1"/><rect x="227" y="345" width="1" height="1"/><rect x="227" y="350" width="1" height="1"/><rect x="227" y="355" width="1" height="1"/><rect x="289" y="42" width="1" height="1"/><rect x="289" y="47" width="1" height="1"/><rect x="289" y="52" width="1" height="1"/><rect x="289" y="57" width="1" height="1"/><rect x="289" y="62" width="1" height="1"/><rect x="289" y="67" width="1" height="1"/><rect x="289" y="72" width="1" height="1"/><rect x="289" y="77" width="1" height="1"/><rect x="289" y="82" width="1" height="1"/><rect x="289" y="87" width="1" height="1"/><rect x="289" y="92" width="1" height="1"/><rect x="289" y="97" width="1" height="1"/><rect x="289" y="102" width="1" height="1"/><rect x="289" y="107" width="1" height="1"/><rect x="289" y="112" width="1" height="1"/><rect x="289" y="117" width="1" height="1"/><rect x="289" y="122" width="1" height="1"/><rect x="289" y="127" width="1" height="1"/><rect x="289" y="132" width="1" height="1"/><rect x="289" y="137" width="1" height="1"/><rect x="289" y="142" width="1" height="1"/><rect x="289" y="147" width="1" height="1"/><rect x="289" y="152" width="1" height="1"/><rect x="289" y="157" width="1" height="1"/><rect x="289" y="162" width="1" height="1"/><rect x="289" y="167" width="1" height="1"/><rect x="289" y="172" width="1" height="1"/><rect x="289" y="177" width="1" height="1"/><rect x="289" y="182" width="1" height="1"/><rect x="289" y="187" width="1" height="1"/><rect x="289" y="192" width="1" height="1"/><rect x="289" y="197" width="1" height="1"/><rect x="289" y="202" width="1" height="1"/><rect x="289" y="207" width="1" height="1"/><rect x="289" y="212" width="1" height="1"/><rect x="289" y="217" width="1" height="1"/><rect x="289" y="222" width="1" height="1"/><rect x="289" y="227" width="1" height="1"/><rect x="289" y="232" width="1" height="1"/><rect x="289" y="237" width="1" height="1"/><rect x="289" y="242" width="1" height="1"/><rect x="289" y="247" width="1" height="1"/><rect x="289" y="252" width="1" height="1"/><rect x="289" y="257" width="1" height="1"/><rect x="289" y="262" width="1" height="1"/><rect x="289" y="267" width="1" height="1"/><rect x="289" y="272" width="1" height="1"/><rect x="289" y="277" width="1" height="1"/><rect x="289" y="282" width="1" height="1"/><rect x="289" y="287" width="1" height="1"/><rect x="289" y="292" width="1" height="1"/><rect x="289" y="297" width="1" height="1"/><rect x="289" y="302" width="1" height="1"/><rect x="289" y="307" width="1" height="1"/><rect x="289" y="312" width="1" height="1"/><rect x="289" y="317" width="1" height="1"/><rect x="289" y="322" width="1" height="1"/><rect x="289" y="327" width="1" height="1"/><rect x="289" y="332" width="1" height="1"/><rect x="289" y="337" width="1" height="1"/><rect x="289" y="342" width="1" height="1"/><rect x="289" y="347" width="1" height="1"/><rect x="289" y="352" width="1" height="1"/><rect x="351" y="44" width="1" height="1"/><rect x="351" y="49" width="1" height="1"/><rect x="351" y="54" width="1" height="1"/><rect x="351" y="59" width="1" height="1"/><rect x="351" y="64" width="1" height="1"/><rect x="351" y="69" width="1" height="1"/><rect x="351" y="74" width="1" height="1"/><rect x="351" y="79" width="1" height="1"/><rect x="351" y="84" width="1" height="1"/><rect x="351" y="89" width="1" height="1"/><rect x="351" y="94" width="1" height="1"/><rect x="351" y="99" width="1" height="1"/><rect x="351" y="104" width="1" height="1"/><rect x="351" y="109" width="1" height="1"/><rect x="351" y="114" width="1" height="1"/><rect x="351" y="119" width="1" height="1"/><rect x="351" y="124" width="1" height="1"/><rect x="351" y="129" width="1" height="1"/><rect x="351" y="134" width="1" height="1"/><rect x="351" y="139" width="1" height="1"/><rect x="351" y="144" width="1" height="1"/><rect x="351" y="149" width="1" height="1"/><rect x="351" y="154" width="1" height="1"/><rect x="351" y="159" width="1" height="1"/><rect x="351" y="164" width="1" height="1"/><rect x="351" y="169" width="1" height="1"/><rect x="351" y="174" width="1" height="1"/><rect x="351" y="179" width="1" height="1"/><rect x="351" y="184" width="1" height="1"/><rect x="351" y="189" width="1" height="1"/><rect x="351" y="194" width="1" height="1"/><rect x="351" y="199" width="1" height="1"/><rect x="351" y="204" width="1" height="1"/><rect x="351" y="209" width="1" height="1"/><rect x="351" y="214" width="1" height="1"/><rect x="351" y="219" width="1" height="1"/><rect x="351" y="224" width="1" height="1"/><rect x="351" y="229" width="1" height="1"/><rect x="351" y="234" width="1" height="1"/><rect x="351" y="239" width="1" height="1"/><rect x="351" y="244" width="1" height="1"/><rect x="351" y="249" width="1" height="1"/><rect x="351" y="254" width="1" height="1"/><rect x="351" y="259" width="1" height="1"/><rect x="351" y="264" width="1" height="1"/><rect x="351" y="269" width="1" height="1"/><rect x="351" y="274" width="1" height="1"/><rect x="351" y="279" width="1" height="1"/><rect x="351" y="284" width="1" height="1"/><rect x="351" y="289" width="1" height="1"/><rect x="351" y="294" width="1" height="1"/><rect x="351" y="299" width="1" height="1"/><rect x="351" y="304" width="1" height="1"/><rect x="351" y="309" width="1" height="1"/><rect x="351" y="314" width="1" height="1"/><rect x="351" y="319" width="1" height="1"/><rect x="351" y="324" width="1" height="1"/><rect x="351" y="329" width="1" height="1"/><rect x="351" y="334" width="1" height="1"/><rect x="351" y="339" width="1" height="1"/><rect x="351" y="344" width="1" height="1"/><rect x="351" y="349" width="1" height="1"/><rect x="351" y="354" width="1" height="1"/><rect x="413" y="41" width="1" height="1"/><rect x="413" y="46" width="1" height="1"/><rect x="413" y="51" width="1" height="1"/><rect x="413" y="56" width="1" height="1"/><rect x="413" y="61" width="1" height="1"/><rect x="413" y="66" width="1" height="1"/><rect x="413" y="71" width="1" height="1"/><rect x="413" y="76" width="1" height="1"/><rect x="413" y="81" width="1" height="1"/><rect x="413" y="86" width="1" height="1"/><rect x="413" y="91" width="1" height="1"/><rect x="413" y="96" width="1" height="1"/><rect x="413" y="101" width="1" height="1"/><rect x="413" y="106" width="1" height="1"/><rect x="413" y="111" width="1" height="1"/><rect x="413" y="116" width="1" height="1"/><rect x="413" y="121" width="1" height="1"/><rect x="413" y="126" width="1" height="1"/><rect x="413" y="131" width="1" height="1"/><rect x="413" y="136" width="1" height="1"/><rect x="413" y="141" width="1" height="1"/><rect x="413" y="146" width="1" height="1"/><rect x="413" y="151" width="1" height="1"/><rect x="413" y="156" width="1" height="1"/><rect x="413" y="161" width="1" height="1"/><rect x="413" y="166" width="1" height="1"/><rect x="413" y="171" width="1" height="1"/><rect x="413" y="176" width="1" height="1"/><rect x="413" y="181" width="1" height="1"/><rect x="413" y="186" width="1" height="1"/><rect x="413" y="191" width="1" height="1"/><rect x="413" y="196" width="1" height="1"/><rect x="413" y="201" width="1" height="1"/><rect x="413" y="206" width="1" height="1"/><rect x="413" y="211" width="1" height="1"/><rect x="413" y="216" width="1" height="1"/><rect x="413" y="221" width="1" height="1"/><rect x="413" y="226" width="1" height="1"/><rect x="413" y="231" width="1" height="1"/><rect x="413" y="236" width="1" height="1"/><rect x="413" y="241" width="1" height="1"/><rect x="413" y="246" width="1" height="1"/><rect x="413" y="251" width="1" height="1"/><rect x="413" y="256" width="1" height="1"/><rect x="413" y="261" width="1" height="1"/><rect x="413" y="266" width="1" height="1"/><rect x="413" y="271" width="1" height="1"/><rect x="413" y="276" width="1" height="1"/><rect x="413" y="281" width="1" height="1"/><rect x="413" y="286" width="1" height="1"/><rect x="413" y="291" width="1" height="1"/><rect x="413" y="296" width="1" height="1"/><rect x="413" y="301" width="1" height="1"/><rect x="413" y="306" width="1" height="1"/><rect x="413" y="311" width="1" height="1"/><rect x="413" y="316" width="1" height="1"/><rect x="413" y="321" width="1" height="1"/><rect x="413" y="326" width="1" height="1"/><rect x="413" y="331" width="1" height="1"/><rect x="413" y="336" width="1" height="1"/><rect x="413" y="341" width="1" height="1"/><rect x="413" y="346" width="1" height="1"/><rect x="413" y="351" width="1" height="1"/><rect x="475" y="43" width="1" height="1"/><rect x="475" y="48" width="1" height="1"/><rect x="475" y="53" width="1" height="1"/><rect x="475" y="58" width="1" height="1"/><rect x="475" y="63" width="1" height="1"/><rect x="475" y="68" width="1" height="1"/><rect x="475" y="73" width="1" height="1"/><rect x="475" y="78" width="1" height="1"/><rect x="475" y="83" width="1" height="1"/><rect x="475" y="88" width="1" height="1"/><rect x="475" y="93" width="1" height="1"/><rect x="475" y="98" width="1" height="1"/><rect x="475" y="103" width="1" height="1"/><rect x="475" y="108" width="1" height="1"/><rect x="475" y="113" width="1" height="1"/><rect x="475" y="118" width="1" height="1"/><rect x="475" y="123" width="1" height="1"/><rect x="475" y="128" width="1" height="1"/><rect x="475" y="133" width="1" height="1"/><rect x="475" y="138" width="1" height="1"/><rect x="475" y="143" width="1" height="1"/><rect x="475" y="148" width="1" height="1"/><rect x="475" y="153" width="1" height="1"/><rect x="475" y="158" width="1" height="1"/><rect x="475" y="163" width="1" height="1"/><rect x="475" y="168" width="1" height="1"/><rect x="475" y="173" width="1" height="1"/><rect x="475" y="178" width="1" height="1"/><rect x="475" y="183" width="1" height="1"/><rect x="475" y="188" width="1" height="1"/><rect x="475" y="193" width="1" height="1"/><rect x="475" y="198" width="1" height="1"/><rect x="475" y="203" width="1" height="1"/><rect x="475" y="208" width="1" height="1"/><rect x="475" y="213" width="1" height="1"/><rect x="475" y="218" width="1" height="1"/><rect x="475" y="223" width="1" height="1"/><rect x="475" y="228" width="1" height="1"/><rect x="475" y="233" width="1" height="1"/><rect x="475" y="238" width="1" height="1"/><rect x="475" y="243" width="1" height="1"/><rect x="475" y="248" width="1" height="1"/><rect x="475" y="253" width="1" height="1"/><rect x="475" y="258" width="1" height="1"/><rect x="475" y="263" width="1" height="1"/><rect x="475" y="268" width="1" height="1"/><rect x="475" y="273" width="1" height="1"/><rect x="475" y="278" width="1" height="1"/><rect x="475" y="283" width="1" height="1"/><rect x="475" y="288" width="1" height="1"/><rect x="475" y="293" width="1" height="1"/><rect x="475" y="298" width="1" height="1"/><rect x="475" y="303" width="1" height="1"/><rect x="475" y="308" width="1" height="1"/><rect x="475" y="313" width="1" height="1"/><rect x="475" y="318" width="1" height="1"/><rect x="475" y="323" width="1" height="1"/><rect x="475" y="328" width="1" height="1"/><rect x="475" y="333" width="1" height="1"/><rect x="475" y="338" width="1" height="1"/><rect x="475" y="343" width="1" height="1"/><rect x="475" y="348" width="1" height="1"/><rect x="475" y="353" width="1" height="1"/><rect x="537" y="40" width="1" height="1"/><rect x="537" y="45" width="1" height="1"/><rect x="537" y="50" width="1" height="1"/><rect x="537" y="55" width="1" height="1"/><rect x="537" y="60" width="1" height="1"/><rect x="537" y="65" width="1" height="1"/><rect x="537" y="70" width="1" height="1"/><rect x="537" y="75" width="1" height="1"/><rect x="537" y="80" width="1" height="1"/><rect x="537" y="85" width="1" height="1"/><rect x="537" y="90" width="1" height="1"/><rect x="537" y="95" width="1" height="1"/><rect x="537" y="100" width="1" height="1"/><rect x="537" y="105" width="1" height="1"/><rect x="537" y="110" width="1" height="1"/><rect x="537" y="115" width="1" height="1"/><rect x="537" y="120" width="1" height="1"/><rect x="537" y="125" width="1" height="1"/><rect x="537" y="130" width="1" height="1"/><rect x="537" y="135" width="1" height="1"/><rect x="537" y="140" width="1" height="1"/><rect x="537" y="145" width="1" height="1"/><rect x="537" y="150" width="1" height="1"/><rect x="537" y="155" width="1" height="1"/><rect x="537" y="160" width="1" height="1"/><rect x="537" y="165" width="1" height="1"/><rect x="537" y="170" width="1" height="1"/><rect x="537" y="175" width="1" height="1"/><rect x="537" y="180" width="1" height="1"/><rect x="537" y="185" width="1" height="1"/><rect x="537" y="190" width="1" height="1"/><rect x="537" y="195" width="1" height="1"/><rect x="537" y="200" width="1" height="1"/><rect x="537" y="205" width="1" height="1"/><rect x="537" y="210" width="1" height="1"/><rect x="537" y="215" width="1" height="1"/><rect x="537" y="220" width="1" height="1"/><rect x="537" y="225" width="1" height="1"/><rect x="537" y="230" width="1" height="1"/><rect x="537" y="235" width="1" height="1"/><rect x="537" y="240" width="1" height="1"/><rect x="537" y="245" width="1" height="1"/><rect x="537" y="250" width="1" height="1"/><rect x="537" y="255" width="1" height="1"/><rect x="537" y="260" width="1" height="1"/><rect x="537" y="265" width="1" height="1"/><rect x="537" y="270" width="1" height="1"/><rect x="537" y="275" width="1" height="1"/><rect x="537" y="280" width="1" height="1"/><rect x="537" y="285" width="1" height="1"/><rect x="537" y="290" width="1" height="1"/><rect x="537" y="295" width="1" height="1"/><rect x="537" y="300" width="1" height="1"/><rect x="537" y="305" width="1" height="1"/><rect x="537" y="310" width="1" height="1"/><rect x="537" y="315" width="1" height="1"/><rect x="537" y="320" width="1" height="1"/><rect x="537" y="325" width="1" height="1"/><rect x="537" y="330" width="1" height="1"/><rect x="537" y="335" width="1" height="1"/><rect x="537" y="340" width="1" height="1"/><rect x="537" y="345" width="1" height="1"/><rect x="537" y="350" width="1" height="1"/><rect x="537" y="355" width="1" height="1"/><rect x="599" y="42" width="1" height="1"/><rect x="599" y="47" width="1" height="1"/><rect x="599" y="52" width="1" height="1"/><rect x="599" y="57" width="1" height="1"/><rect x="599" y="62" width="1" height="1"/><rect x="599" y="67" width="1" height="1"/><rect x="599" y="72" width="1" height="1"/><rect x="599" y="77" width="1" height="1"/><rect x="599" y="82" width="1" height="1"/><rect x="599" y="87" width="1" height="1"/><rect x="599" y="92" width="1" height="1"/><rect x="599" y="97" width="1" height="1"/><rect x="599" y="102" width="1" height="1"/><rect x="599" y="107" width="1" height="1"/><rect x="599" y="112" width="1" height="1"/><rect x="599" y="117" width="1" height="1"/><rect x="599" y="122" width="1" height="1"/><rect x="599" y="127" width="1" height="1"/><rect x="599" y="132" width="1" height="1"/><rect x="599" y="137" width="1" height="1"/><rect x="599" y="142" width="1" height="1"/><rect x="599" y="147" width="1" height="1"/><rect x="599" y="152" width="1" height="1"/><rect x="599" y="157" width="1" height="1"/><rect x="599" y="162" width="1" height="1"/><rect x="599" y="167" width="1" height="1"/><rect x="599" y="172" width="1" height="1"/><rect x="599" y="177" width="1" height="1"/><rect x="599" y="182" width="1" height="1"/><rect x="599" y="187" width="1" height="1"/><rect x="599" y="192" width="1" height="1"/><rect x="599" y="197" width="1" height="1"/><rect x="599" y="202" width="1" height="1"/><rect x="599" y="207" width="1" height="1"/><rect x="599" y="212" width="1" height="1"/><rect x="599" y="217" width="1" height="1"/><rect x="599" y="222" width="1" height="1"/><rect x="599" y="227" width="1" height="1"/><rect x="599" y="232" width="1" height="1"/><rect x="599" y="237" width="1" height="1"/><rect x="599" y="242" width="1" height="1"/><rect x="599" y="247" width="1" height="1"/><rect x="599" y="252" width="1" height="1"/><rect x="599" y="257" width="1" height="1"/><rect x="599" y="262" width="1" height="1"/><rect x="599" y="267" width="1" height="1"/><rect x="599" y="272" width="1" height="1"/><rect x="599" y="277" width="1" height="1"/><rect x="599" y="282" width="1" height="1"/><rect x="599" y="287" width="1" height="1"/><rect x="599" y="292" width="1" height="1"/><rect x="599" y="297" width="1" height="1"/><rect x="599" y="302" width="1" height="1"/><rect x="599" y="307" width="1" height="1"/><rect x="599" y="312" width="1" height="1"/><rect x="599" y="317" width="1" height="1"/><rect x="599" y="322" width="1" height="1"/><rect x="599" y="327" width="1" height="1"/><rect x="599" y="332" width="1" height="1"/><rect x="599" y="337" width="1" height="1"/><rect x="599" y="342" width="1" height="1"/><rect x="599" y="347" width="1" height="1"/><rect x="599" y="352" width="1" height="1"/><rect x="661" y="44" width="1" height="1"/><rect x="661" y="49" width="1" height="1"/><rect x="661" y="54" width="1" height="1"/><rect x="661" y="59" width="1" height="1"/><rect x="661" y="64" width="1" height="1"/><rect x="661" y="69" width="1" height="1"/><rect x="661" y="74" width="1" height="1"/><rect x="661" y="79" width="1" height="1"/><rect x="661" y="84" width="1" height="1"/><rect x="661" y="89" width="1" height="1"/><rect x="661" y="94" width="1" height="1"/><rect x="661" y="99" width="1" height="1"/><rect x="661" y="104" width="1" height="1"/><rect x="661" y="109" width="1" height="1"/><rect x="661" y="114" width="1" height="1"/><rect x="661" y="119" width="1" height="1"/><rect x="661" y="124" width="1" height="1"/><rect x="661" y="129" width="1" height="1"/><rect x="661" y="134" width="1" height="1"/><rect x="661" y="139" width="1" height="1"/><rect x="661" y="144" width="1" height="1"/><rect x="661" y="149" width="1" height="1"/><rect x="661" y="154" width="1" height="1"/><rect x="661" y="159" width="1" height="1"/><rect x="661" y="164" width="1" height="1"/><rect x="661" y="169" width="1" height="1"/><rect x="661" y="174" width="1" height="1"/><rect x="661" y="179" width="1" height="1"/><rect x="661" y="184" width="1" height="1"/><rect x="661" y="189" width="1" height="1"/><rect x="661" y="194" width="1" height="1"/><rect x="661" y="199" width="1" height="1"/><rect x="661" y="204" width="1" height="1"/><rect x="661" y="209" width="1" height="1"/><rect x="661" y="214" width="1" height="1"/><rect x="661" y="219" width="1" height="1"/><rect x="661" y="224" width="1" height="1"/><rect x="661" y="229" width="1" height="1"/><rect x="661" y="234" width="1" height="1"/><rect x="661" y="239" width="1" height="1"/><rect x="661" y="244" width="1" height="1"/><rect x="661" y="249" width="1" height="1"/><rect x="661" y="254" width="1" height="1"/><rect x="661" y="259" width="1" height="1"/><rect x="661" y="264" width="1" height="1"/><rect x="661" y="269" width="1" height="1"/><rect x="661" y="274" width="1" height="1"/><rect x="661" y="279" width="1" height="1"/><rect x="661" y="284" width="1" height="1"/><rect x="661" y="289" width="1" height="1"/><rect x="661" y="294" width="1" height="1"/><rect x="661" y="299" width="1" height="1"/><rect x="661" y="304" width="1" height="1"/><rect x="661" y="309" width="1" height="1"/><rect x="661" y="314" width="1" height="1"/><rect x="661" y="319" width="1" height="1"/><rect x="661" y="324" width="1" height="1"/><rect x="661" y="329" width="1" height="1"/><rect x="661" y="334" width="1" height="1"/><rect x="661" y="339" width="1" height="1"/><rect x="661" y="344" width="1" height="1"/><rect x="661" y="349" width="1" height="1"/><rect x="661" y="354" width="1" height="1"/><rect x="165" y="349" width="1" height="7"/><rect x="165" y="39" width="1" height="7"/><rect x="227" y="349" width="1" height="7"/><rect x="227" y="39" width="1" height="7"/><rect x="289" y="349" width="1" height="7"/><rect x="289" y="39" width="1" height="7"/><rect x="351" y="349" width="1" height="7"/><rect x="351" y="39" width="1" height="7"/><rect x="413" y="349" width="1" height="7"/><rect x="413" y="39" width="1" height="7"/><rect x="475" y="349" width="1" height="7"/><rect x="475" y="39" width="1" height="7"/><rect x="537" y="349" width="1" height="7"/><rect x="537" y="39" width="1" height="7"/><rect x="599" y="349" width="1" height="7"/><rect x="599" y="39" width="1" height="7"/><rect x="661" y="349" width="1" height="7"/><rect x="661" y="39" width="1" height="7"/><rect x="104" y="320" width="7" height="1"/><rect x="716" y="320" width="7" height="1"/><rect x="104" y="285" width="7" height="1"/><rect x="716" y="285" width="7" height="1"/><rect x="104" y="250" width="7" height="1"/><rect x="716" y="250" width="7" height="1"/><rect x="104" y="215" width="7" height="1"/><rect x="716" y="215" width="7" height="1"/><rect x="104" y="179" width="7" height="1"/><rect x="716" y="179" width="7" height="1"/><rect x="104" y="144" width="7" height="1"/><rect x="716" y="144" width="7" height="1"/><rect x="104" y="109" width="7" height="1"/><rect x="716" y="109" width="7" height="1"/><rect x="104" y="74" width="7" height="1"/><rect x="716" y="74" width="7" height="1"/><rect x="104" y="39" width="620" height="1"/><rect x="104" y="356" width="620" height="1"/><rect x="104" y="39" width="1" height="318"/><rect x="723" y="39" width="1" height="318"/></g>
<path d="M104.5,69.47 L145.5,78.1 L159,78.5 L160,77.5 L161.5,77.5 L162.2,79.3 L162.5,89.5 L163.4,90.2 L163.5,101.5 L164.4,102.7 L164.75,112.75 L165.6,113.4 L166.1,124 L166.6,135 L168.1,146 L168.5,150 L169,155.5 L170,166 L171,169 L172,172 L173,176 L173.2,176.5 L176,176.5 L176.5,177.5 L181,177.5 L181.5,178.5 L184.9,178.5 L185,178 L186,176 L187,171.5 L188,166.5 L189,161 L190,154 L191,147 L192,141.5 L193,135.5 L194,131.5 L195,128.5 L195.2,127.8 L196.9,127.8 L197,128.5 L198,130 L199,135 L200,140 L201,144 L202,149.5 L203,153 L204,158.5 L205,163 L206,170 L207,176 L208,180 L209,182 L209.2,182.5 L213,182.5 L213.5,183.5 L219.6,183.5 L220.4,185 L220.6,209.4 L221.5,210.6 L221.9,230.6 L222.5,232.5 L222.5,257.5 L223.4,258.75 L223.5,280 L224.4,281.9 L224.4,300 L225.6,302.5 L225.6,319.4 L226.25,320.6 L226.25,331.25 L227.5,334.4 L228,334.5 L229,332.5 L230,330.5 L231,326 L232,321 L233,313.5 L234,302.5 L235,286.5 L236,271.5 L237,253.5 L238,236.5 L239,224.8 L240,213.5 L241,205 L241.5,201.5 L243.5,201.5 L244,205 L245,212 L246,222 L247,233 L248,247.5 L249,261.5 L250,279 L251,292 L252,306.5 L253,316.5 L254,325.5 L255,330.5 L256,333.2 L257,333 L258,330.5 L259,325.5 L260,318 L261,306.5 L262,296 L263,283 L264,268.5 L265,257.5 L266,246.5 L267,235.5 L268,228.5 L269,222.9 L269.2,222.5 L270.9,222.5 L271,222.9 L272,227.5 L273,233.5 L274,243.5 L275,252.5 L276,263.5 L277,273.5 L278,284.5 L279,293.5 L280,301.5 L281,307.5 L282,312.5 L282.2,313.5 L283.9,313.5 L284,313 L285,308.5 L286,304.5 L287,297.5 L288,291.5 L289,282.5 L290,275.5 L291,267.5 L292,261.5 L293,255.5 L294,251.5 L294.2,250.5 L295.9,250.5 L296,251 L297,251.8 L298,255 L299,258.5 L300,264 L301,272 L302,279 L303,284.5 L304,290 L305,292.5 L306,294.5 L306.2,296.5 L307.9,296.5 L308,296 L309,295 L310,291.5 L311,287.5 L312,284.5 L313,280.5 L314,276.5 L315,272.5 L316,268.5 L317,264.5 L318,261.5 L319,258.5 L320,257.5 L320.2,256.5 L321.5,256.8 L322,257.5 L323,258.5 L324,261.5 L325,265.5 L326,270.5 L327,275.5 L328,281.5 L329,286.5 L330,291.5 L331,295.5 L332,297.5 L333,299.5 L333.2,300.5 L334.8,300.5 L335,299 L336,296.5 L337,292.5 L338,288.5 L339,284.5 L340,280.5 L341,274.5 L342,269.5 L343,265.5 L344,260.5 L345,258.5 L346,257.5 L346.2,256.5 L347.5,256.8 L348,257.5 L349,258.5 L350,261.5 L351,265.5 L352,269.5 L353,274.5 L354,279.5 L355,283.5 L356,287.5 L357,291.5 L358,294.5 L358.2,296.5 L360.9,296.5 L361,296 L362,294.5 L363,293.5 L364,290.5 L365,286.5 L366,283.5 L367,279.5 L368,274 L368.75,271.5 L369.5,270 L370.25,267.4 L371,265.9 L371.75,265.5 L375.1,265.5 L375.9,266.25 L376.6,268.5 L377.4,271.1 L378.5,274 L379.25,276 L380.4,278.25 L381.5,281.25 L382.25,283.9 L383.4,287.6 L386.25,291.5 L391.25,286.9 L393.1,280.6 L396.9,273.75 L400,272.25 L403.1,275 L410.6,286.25 L413.1,286.25 L420.6,278.1 L423.1,276.25 L427.5,277.5 L433.75,284.4 L438.1,285.25 L444.4,279.4 L448.75,277.5 L456.25,282.5 L459.4,285.25 L463.75,285.25 L470,279.4 L472.5,278.5 L476.25,278.5 L479.4,280.6 L483.1,284.4 L486.9,286.5 L492.5,284.1 L496.9,279.75 L499.4,279.4 L503.1,279.4 L506.9,281.9 L510.6,285.4 L516.9,285.4 L521.25,281.25 L525.6,279.4 L530,279.4 L535,282.5 L538.75,284.4 L544.4,283.1 L550,279.6 L557.5,279.6 L563.1,282.25 L572.3,282.25 L576.6,280.5 L583.4,280.5 L588.3,282.3 L598.6,282.3 L600,281.4 L611.7,281.4 L613,282.3 L627.5,282.3 L628.9,281.4 L631.6,281.4 L633,282.3 L640.6,282.3 L642,283.3 L646.8,283.3 L648.1,282.3 L665.4,282.3 L666.7,283.3 L673.6,283.3 L675,282.3 L678.8,282.3" fill="none" stroke="#0000ff" stroke-width="1"/>
</svg>
<div class="t c" style="left:264px;width:300px;top:0px">Trimble 34310-T OCXO</div>
<div class="t c" style="left:262px;width:300px;top:16px">Warm-up Current, Stiff 12 VDC Supply</div>
<div class="t c" style="left:362px;width:100px;top:377px">Time [min]</div>
<div class="t c" style="left:29px;width:100px;top:190px;transform:rotate(-90deg) scaleX(0.925)">DUT Power [W]</div>
<div class="t r" style="right:699px;top:348px">0</div><div class="t r" style="right:699px;top:312px">1</div><div class="t r" style="right:699px;top:277px">2</div><div class="t r" style="right:699px;top:242px">3</div><div class="t r" style="right:699px;top:207px">4</div><div class="t r" style="right:699px;top:171px">5</div><div class="t r" style="right:699px;top:136px">6</div><div class="t r" style="right:699px;top:101px">7</div><div class="t r" style="right:699px;top:66px">8</div><div class="t r" style="right:699px;top:31px">9</div><div class="t c" style="left:74px;width:60px;top:359px">0</div><div class="t c" style="left:135px;width:60px;top:359px">2</div><div class="t c" style="left:197px;width:60px;top:359px">4</div><div class="t c" style="left:259px;width:60px;top:359px">6</div><div class="t c" style="left:321px;width:60px;top:359px">8</div><div class="t c" style="left:383px;width:60px;top:359px">10</div><div class="t c" style="left:445px;width:60px;top:359px">12</div><div class="t c" style="left:507px;width:60px;top:359px">14</div><div class="t c" style="left:569px;width:60px;top:359px">16</div><div class="t c" style="left:631px;width:60px;top:359px">18</div><div class="t c" style="left:693px;width:60px;top:359px">20</div>
</body></html>
